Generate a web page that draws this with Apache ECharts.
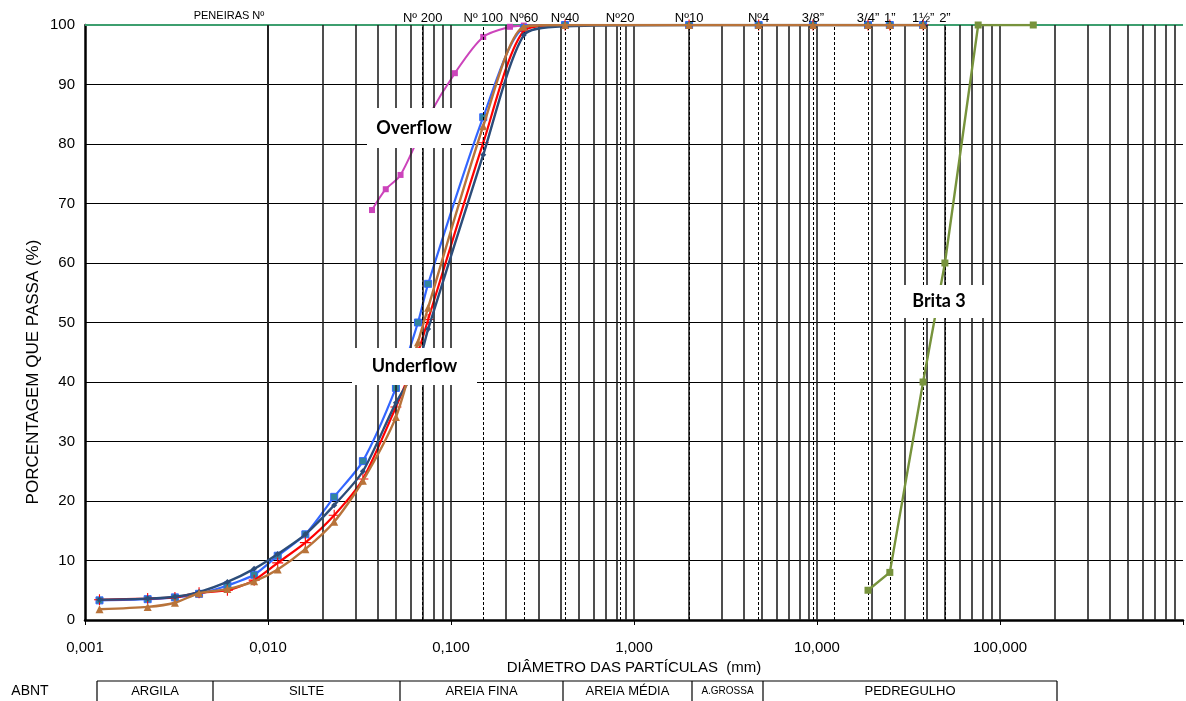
<!DOCTYPE html>
<html>
<head>
<meta charset="utf-8">
<script src="https://cdn.jsdelivr.net/npm/echarts@6/dist/echarts.min.js"></script>
<style>
  html, body { margin: 0; padding: 0; background: #fff; }
  #chart { width: 1186px; height: 701px; }
</style>
</head>
<body>
<div id="chart"></div>
<script>
// diâmetros (mm) dos pontos do underflow (sedimentação + peneiramento)
var diam = [0.0012, 0.0022, 0.0031, 0.0042, 0.006, 0.0084, 0.0113, 0.016, 0.023, 0.033, 0.05, 0.066, 0.075, 0.15, 0.25, 0.42, 2.0, 4.8, 9.5, 19, 25, 38];
var underBlue  = [3.3, 3.5, 3.8, 4.4, 5.8, 7.6, 10.8, 14.4, 20.7, 26.7, 39.0, 50.0, 56.5, 84.5, 99.5, 100, 100, 100, 100, 100, 100, 100];
var underNavy  = [3.4, 3.6, 3.9, 4.7, 6.4, 8.6, 11.1, 14.4, 19.3, 25.0, 36.5, 42.9, 48.9, 78.2, 98.3, 99.8, 100, 100, 100, 100, 100, 100];
var underRed   = [3.4, 3.6, 3.8, 4.6, 5.0, 6.7, 9.6, 13.0, 17.6, 23.7, 35.8, 45.0, 50.5, 80.2, 99.0, 100, 100, 100, 100, 100, 100, 100];
var underBrown = [1.8, 2.2, 2.9, 4.5, 5.2, 6.5, 8.5, 11.9, 16.5, 23.4, 34.1, 46.7, 52.5, 83.0, 99.7, 100, 100, 100, 100, 100, 100, 100];

// overflow
var overDiam = [0.037, 0.044, 0.053, 0.075, 0.105, 0.15, 0.21, 0.25, 0.42];
var overPass = [68.9, 72.4, 74.8, 84.5, 91.9, 98.0, 99.7, 99.9, 100];

// brita 3
var britaDiam = [19, 25, 38, 50, 76, 152];
var britaPass = [5, 8, 40, 60, 100, 100];

// peneiras
var sieveSizes = [0.075, 0.15, 0.25, 0.42, 0.84, 2.0, 4.8, 9.5, 12.5, 19, 25, 38, 50];
var sieveNames = ['Nº 200', 'Nº 100', 'Nº60', 'Nº40', 'Nº20', 'Nº10', 'Nº4', '3/8”', '', '3/4”', '1”', '1½”', '2”'];

function pairs(xs, ys) {
  return xs.map(function (x, i) { return [x, ys[i]]; });
}

// linhas verticais do papel log (1..9 x 10^k)
var logLines = [];
for (var e = -3; e <= 2; e++) {
  for (var m = 1; m <= 9; m++) {
    if (e === -3 && m === 1) continue;
    logLines.push({ xAxis: +(m * Math.pow(10, e)).toPrecision(3) });
  }
}

var sieveLines = sieveSizes.map(function (s, i) {
  return { xAxis: s, name: sieveNames[i] };
});

var plusPath = 'path://M4.5,0 L5.5,0 L5.5,4.5 L10,4.5 L10,5.5 L5.5,5.5 L5.5,10 L4.5,10 L4.5,5.5 L0,5.5 L0,4.5 L4.5,4.5 Z';

var myChart = echarts.init(document.getElementById('chart'));

function box(x, y, w, h, label) {
  return {
    type: 'group',
    z: 50,
    children: [
      { type: 'rect', shape: { x: x, y: y, width: w, height: h }, style: { fill: '#fff' }, z: 50 },
      {
        type: 'text', z: 51,
        style: {
          x: x + w / 2, y: y + h / 2, text: label, align: 'center', verticalAlign: 'middle',
          font: 'bold 18px Lato, "Open Sans", sans-serif', fill: '#000'
        }
      }
    ]
  };
}

// tabela ABNT
var abntX = [97, 213, 400, 563, 692, 763, 1057];
var abntNames = ['ARGILA', 'SILTE', 'AREIA FINA', 'AREIA MÉDIA', 'A.GROSSA', 'PEDREGULHO'];
var abntGraphics = [
  { type: 'line', shape: { x1: abntX[0], y1: 681, x2: abntX[abntX.length - 1], y2: 681 }, style: { stroke: '#000', lineWidth: 1.2 } },
  { type: 'text', style: { x: 30, y: 691, text: 'ABNT', align: 'center', verticalAlign: 'middle', font: '14px "Liberation Sans", Arial, sans-serif', fill: '#000' } }
];
abntX.forEach(function (x) {
  abntGraphics.push({ type: 'line', shape: { x1: x, y1: 681, x2: x, y2: 701 }, style: { stroke: '#000', lineWidth: 1.2 } });
});
abntNames.forEach(function (n, i) {
  abntGraphics.push({
    type: 'text',
    style: {
      x: (abntX[i] + abntX[i + 1]) / 2, y: 691, text: n, align: 'center', verticalAlign: 'middle',
      font: (n === 'A.GROSSA' ? '10px' : '13px') + ' "Liberation Sans", Arial, sans-serif', fill: '#000'
    }
  });
});

var option = {
  animation: false,
  backgroundColor: '#fff',
  grid: { left: 85, right: 0, top: 25, bottom: 81 },
  xAxis: {
    type: 'log',
    logBase: 10,
    min: 0.001,
    max: 1000,
    name: 'DIÂMETRO DAS PARTÍCULAS  (mm)',
    nameLocation: 'middle',
    nameGap: 38,
    nameTextStyle: { fontSize: 15, color: '#000', fontFamily: 'Liberation Sans' },
    axisLine: { lineStyle: { color: '#000', width: 2.5 } },
    axisTick: { show: true, length: 5, lineStyle: { color: '#000', width: 1 } },
    axisLabel: {
      fontSize: 15, color: '#000', fontFamily: 'Liberation Sans', margin: 20,
      formatter: function (v) {
        var p = Math.round(Math.log10(v));
        if (p > 2) return '';
        return Math.pow(10, p).toFixed(3).replace('.', ',');
      }
    },
    splitLine: { show: false }
  },
  yAxis: {
    type: 'value',
    min: 0,
    max: 100,
    interval: 10,
    axisLine: { show: true, lineStyle: { color: '#000', width: 2.5 } },
    axisTick: { show: false },
    axisLabel: { fontSize: 15, color: '#000', fontFamily: 'Liberation Sans', margin: 10 },
    splitLine: { show: true, lineStyle: { color: '#000', width: 1.2 } }
  },
  series: [
    {
      // papel log
      type: 'line', z: 1, silent: true, showSymbol: false,
      data: [[0.001, 0]], lineStyle: { opacity: 0 },
      markLine: {
        silent: true, symbol: ['none', 'none'], animation: false,
        label: { show: false },
        lineStyle: { color: '#222', width: 1.6, type: 'solid' },
        data: logLines
      }
    },
    {
      // peneiras
      type: 'line', z: 1, silent: true, showSymbol: false,
      data: [[0.001, 0]], lineStyle: { opacity: 0 },
      markLine: {
        silent: true, symbol: ['none', 'none'], animation: false,
        label: {
          show: true, position: 'end', distance: 0, formatter: '{b}',
          fontSize: 13, color: '#000', fontFamily: 'Liberation Sans'
        },
        lineStyle: { color: '#000', width: 1, type: [3, 2] },
        data: sieveLines
      }
    },
    {
      name: 'topo', type: 'line', z: 2, showSymbol: false,
      data: [[0.001, 100], [1000, 100]],
      lineStyle: { color: '#3d9f6f', width: 2 }
    },
    {
      name: 'Overflow', type: 'line', z: 3, smooth: 0.3,
      data: pairs(overDiam, overPass),
      symbol: 'rect', symbolSize: 6,
      itemStyle: { color: '#cc44bb' },
      lineStyle: { color: '#cc44bb', width: 2 }
    },
    {
      name: 'Underflow 1', type: 'line', z: 3, smooth: 0.25,
      data: pairs(diam, underBlue),
      symbol: 'rect', symbolSize: 7,
      itemStyle: { color: '#31859c', borderColor: '#3366ff', borderWidth: 1 },
      lineStyle: { color: '#3366ff', width: 2.2 }
    },
    {
      name: 'Underflow 2', type: 'line', z: 4, smooth: 0.25,
      data: pairs(diam, underRed),
      symbol: plusPath, symbolSize: 11,
      itemStyle: { color: '#ff0000' },
      lineStyle: { color: '#ff0000', width: 2.2 }
    },
    {
      name: 'Underflow 3', type: 'line', z: 5, smooth: 0.25,
      data: pairs(diam, underNavy),
      symbol: 'diamond', symbolSize: 6,
      itemStyle: { color: '#2c4d7a' },
      lineStyle: { color: '#2c4d7a', width: 2.4 }
    },
    {
      name: 'Underflow 4', type: 'line', z: 6, smooth: 0.25,
      data: pairs(diam, underBrown),
      symbol: 'triangle', symbolSize: 8,
      itemStyle: { color: '#b8733a' },
      lineStyle: { color: '#b8733a', width: 2.4 }
    },
    {
      name: 'Brita 3', type: 'line', z: 7,
      data: pairs(britaDiam, britaPass),
      symbol: 'rect', symbolSize: 7,
      itemStyle: { color: '#77933c' },
      lineStyle: { color: '#77933c', width: 2.4 }
    }
  ],
  graphic: [
    { type: 'text', z: 60, style: { x: 229, y: 16, text: 'PENEIRAS Nº', align: 'center', verticalAlign: 'middle', font: '11px "Liberation Sans", Arial, sans-serif', fill: '#000' } },
    {
      type: 'text', z: 60, x: 33, y: 372, rotation: Math.PI / 2,
      style: { x: 0, y: 0, text: 'PORCENTAGEM QUE PASSA (%)', align: 'center', verticalAlign: 'middle', font: '17px "Liberation Sans", Arial, sans-serif', fill: '#000' }
    },
    box(367, 108, 94, 40, 'Overflow'),
    box(352, 348, 125, 37, 'Underflow'),
    box(893, 285, 92, 33, 'Brita 3')
  ].concat(abntGraphics)
};

myChart.setOption(option);
window.onresize = myChart.resize;
</script>
</body>
</html>
